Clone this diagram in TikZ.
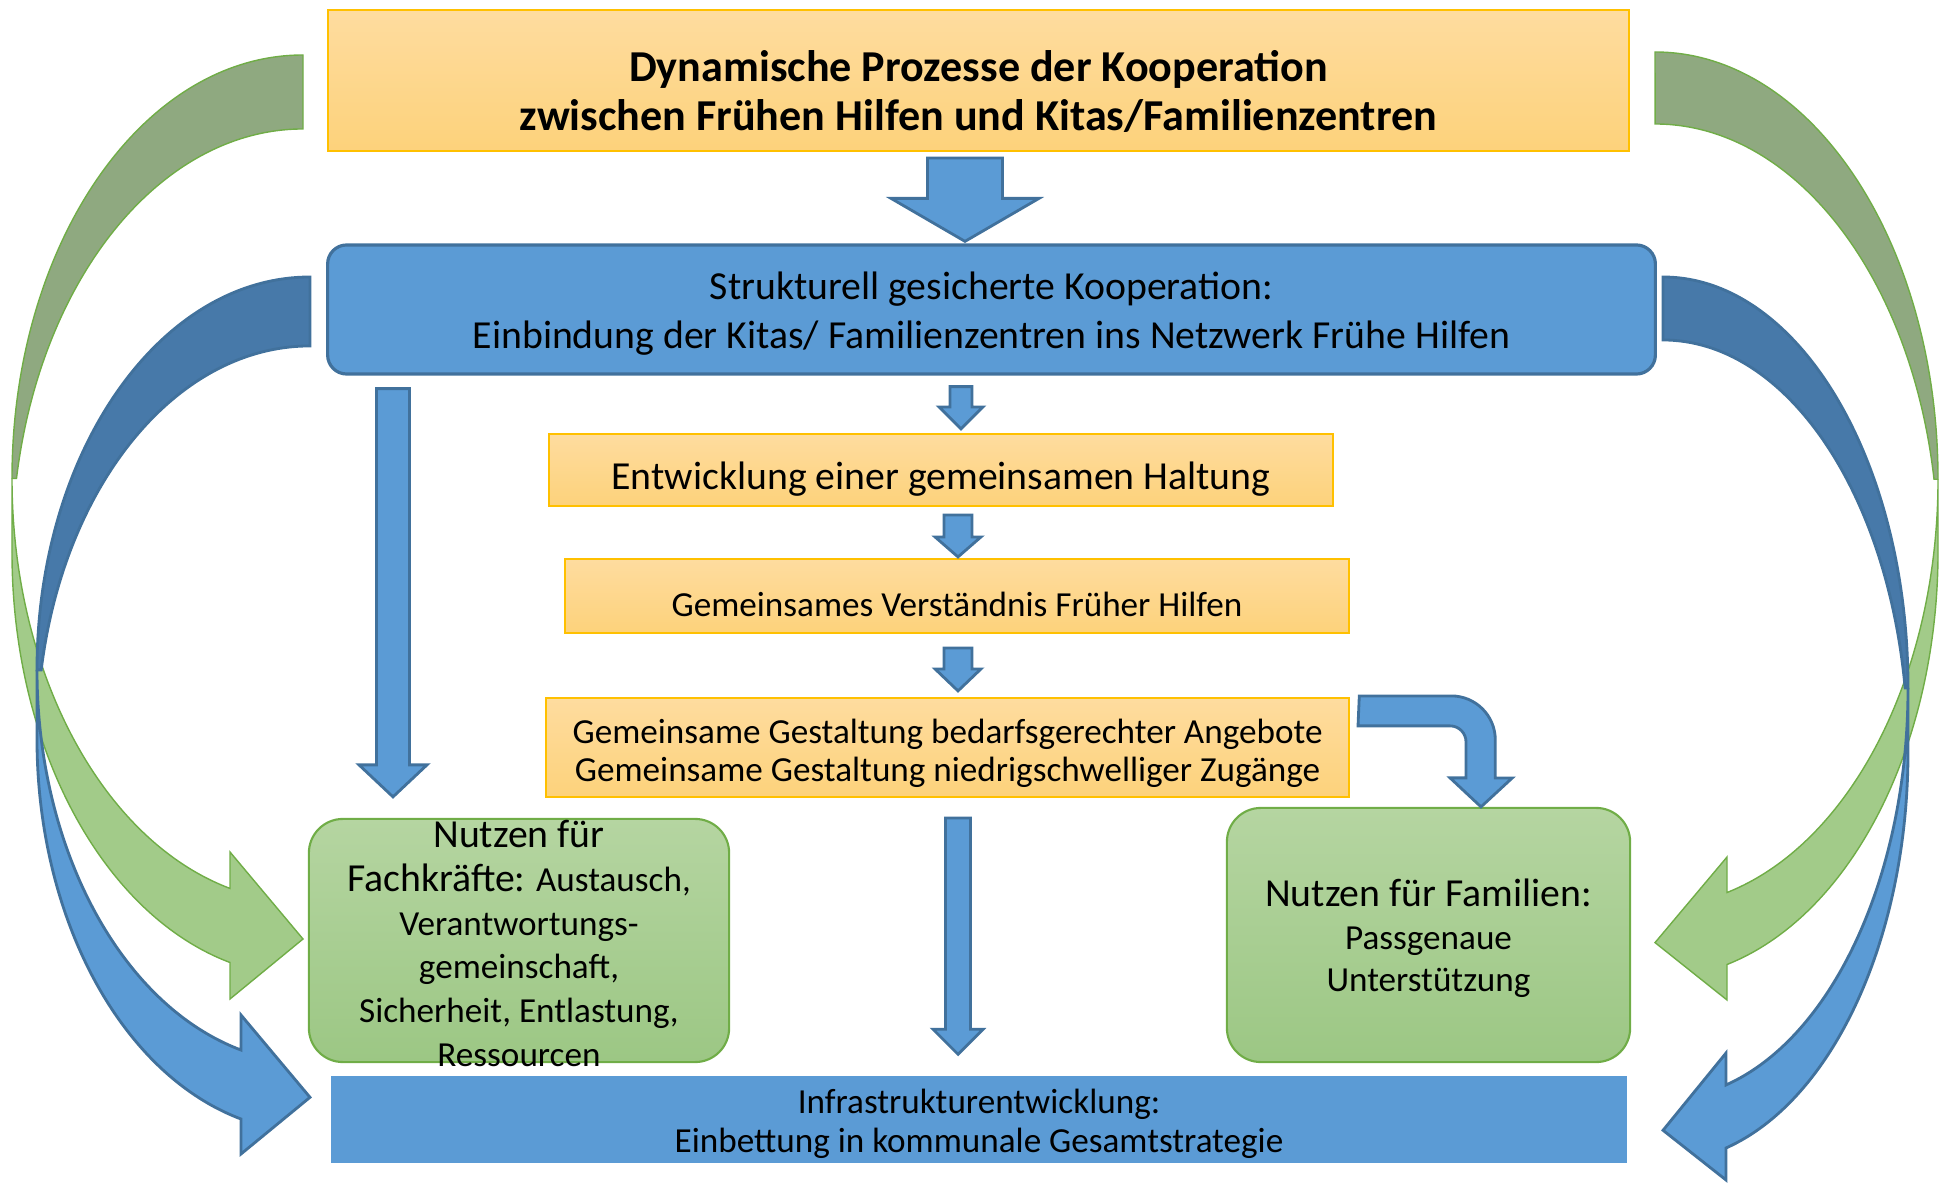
\documentclass[tikz,border=0pt]{standalone}
\usepackage{fontspec}
\setmainfont{Carlito}
\usetikzlibrary{calc}

\definecolor{orangetop}{HTML}{FEDC9F}
\definecolor{orangebot}{HTML}{FDD27B}
\definecolor{orangeline}{HTML}{FFC000}
\definecolor{bluefill}{HTML}{5B9BD5}
\definecolor{blueline}{HTML}{41719C}
\definecolor{blueback}{HTML}{4779A9}
\definecolor{greentop}{HTML}{B5D5A1}
\definecolor{greenbot}{HTML}{9CC784}
\definecolor{greenline}{HTML}{70AD47}
\definecolor{greenfront}{HTML}{A2CB89}
\definecolor{greenback}{HTML}{8FA980}

\newcommand{\titlefont}{\bfseries\fontsize{12.55}{14}\selectfont}
\newcommand{\bigfont}{\fontsize{11.3}{13.9}\selectfont}
\newcommand{\smallfont}{\fontsize{10}{10.8}\selectfont}
% lowered text block: shift, lines
\newcommand{\boxtext}[2]{\raisebox{-#1}[\height][\depth]{\begin{tabular}{@{}c@{}}#2\end{tabular}}}

\tikzset{
  orangebox/.style={draw=orangeline, line width=0.6pt, top color=orangetop, bottom color=orangebot, align=center, inner sep=0pt},
  bluebox/.style={draw=blueline, line width=0.9pt, fill=bluefill, rounded corners=0.19cm, align=center, inner sep=0pt},
  greenbox/.style={draw=greenline, line width=0.6pt, top color=greentop, bottom color=greenbot, rounded corners=0.34cm, align=center, inner sep=0pt},
  blkarrow/.style={draw=blueline, fill=bluefill, line width=0.8pt, line join=miter},
  gfront/.style={draw=greenline, fill=greenfront, line width=0.4pt},
  gback/.style={draw=greenline, fill=greenback, line width=0.4pt},
  bfront/.style={draw=blueline, fill=bluefill, line width=0.8pt},
  bback/.style={draw=blueline, fill=blueback, line width=0.8pt}
}

% start, end, half shaft, half head, head length (in 0.01cm)
\newcommand{\blkdown}[5]{%
  \draw[blkarrow] let \p1=(#1), \p2=(#2) in
    (\x1-#3*0.01cm,\y1) -- (\x1+#3*0.01cm,\y1) -- (\x1+#3*0.01cm,\y2+#5*0.01cm)
    -- (\x1+#4*0.01cm,\y2+#5*0.01cm) -- (\x2,\y2) -- (\x1-#4*0.01cm,\y2+#5*0.01cm)
    -- (\x1-#3*0.01cm,\y2+#5*0.01cm) -- cycle;}

\begin{document}
\begin{tikzpicture}[x=0.01cm, y=-0.01cm]
\useasboundingbox (0,0) rectangle (1943,1183);

\draw[gback] (303,55) arc[start angle=270, end angle=180, x radius=291, y radius=423.5]
  -- (16.5,478.5) arc[start angle=190.06, end angle=270, x radius=291, y radius=423.5] -- cycle;
\draw[gfront] (12,478.5) arc[start angle=180, end angle=104.53, x radius=291, y radius=423.5]
  -- (230,852) -- (303,939) -- (230,999) -- (230,962.5)
  arc[start angle=104.53, end angle=180, x radius=291, y radius=423.5] -- cycle;

\draw[gback] (1655,52) arc[start angle=270, end angle=360, x radius=283, y radius=427.3]
  -- (1934,479.3) arc[start angle=350.3, end angle=270, x radius=283, y radius=427.3] -- cycle;
\draw[gfront] (1938,479.3) arc[start angle=0, end angle=75.26, x radius=283, y radius=427.3]
  -- (1727,857) -- (1655,942.6) -- (1727,1000) -- (1727,964.5)
  arc[start angle=75.26, end angle=0, x radius=283, y radius=427.3] -- cycle;

\draw[bback] (310,277) arc[start angle=270, end angle=180, x radius=273, y radius=392.9]
  -- (41.2,669.9) arc[start angle=190.11, end angle=270, x radius=273, y radius=392.9] -- cycle;
\draw[bfront] (37,669.9) arc[start angle=180, end angle=104.64, x radius=273, y radius=392.9]
  -- (241,1015) -- (310,1097.3) -- (241,1154) -- (241,1119)
  arc[start angle=104.64, end angle=180, x radius=273, y radius=392.9] -- cycle;

\draw[bback] (1663,277) arc[start angle=270, end angle=360, x radius=245, y radius=410.9]
  -- (1905.1,687.9) arc[start angle=351.18, end angle=270, x radius=245, y radius=410.9] -- cycle;
\draw[bfront] (1908,687.9) arc[start angle=0, end angle=75.1, x radius=245, y radius=410.9]
  -- (1726,1053) -- (1663,1130.3) -- (1726,1180) -- (1726,1148)
  arc[start angle=75.1, end angle=0, x radius=245, y radius=410.9] -- cycle;

\node[orangebox, minimum width=13.01cm, minimum height=1.41cm, font=\titlefont] (title) at (978.5,80.5)
  {\boxtext{0.16cm}{Dynamische Prozesse der Kooperation\\zwischen Frühen Hilfen und Kitas/Familienzentren}};
\node[bluebox, minimum width=13.27cm, minimum height=1.29cm, font=\bigfont] (struct) at (991.5,309.5)
  {\boxtext{0.05cm}{Strukturell gesicherte Kooperation:\\Einbindung der Kitas/ Familienzentren ins Netzwerk Frühe Hilfen}};
\node[orangebox, minimum width=7.84cm, minimum height=0.72cm, font=\bigfont] (haltung) at (941,470)
  {\boxtext{0.095cm}{Entwicklung einer gemeinsamen Haltung}};
\node[orangebox, minimum width=7.84cm, minimum height=0.74cm, font=\smallfont] (verst) at (957,596)
  {\boxtext{0.13cm}{Gemeinsames Verständnis Früher Hilfen}};
\node[orangebox, minimum width=8.03cm, minimum height=0.99cm, font=\smallfont] (gest) at (947.5,747.5)
  {\boxtext{0.07cm}{Gemeinsame Gestaltung bedarfsgerechter Angebote\\Gemeinsame Gestaltung niedrigschwelliger Zugänge}};
\node[greenbox, minimum width=4.2cm, minimum height=2.43cm] (fach) at (519,940.5) {};
\node[align=center, inner sep=0pt, font=\fontsize{10}{12.4}\selectfont] (fachtext) at (519,943.5)
  {{\bigfont Nutzen für}\\{\bigfont Fachkräfte:} Austausch,\\Verantwortungs-\\gemeinschaft,\\Sicherheit, Entlastung,\\Ressourcen};
\node[greenbox, minimum width=4.03cm, minimum height=2.54cm, font=\fontsize{10}{12.2}\selectfont] (famil) at (1428.5,935)
  {\boxtext{0.055cm}{{\bigfont Nutzen für Familien:}\\Passgenaue\\Unterstützung}};
\node[fill=bluefill, minimum width=12.96cm, minimum height=0.87cm, align=center, inner sep=0pt,
  font=\fontsize{10}{11.1}\selectfont] (infra) at (979,1119.5)
  {\boxtext{0.055cm}{Infrastrukturentwicklung:\\Einbettung in kommunale Gesamtstrategie}};

\blkdown{$(title.south -| 965,0)+(0,6)$}{$(struct.north -| 965,0)+(0,-2)$}{37.5}{74}{43}
\blkdown{$(struct.south -| 961,0)+(0,11)$}{$(haltung.north -| 961,0)+(0,-4)$}{11}{22}{22}
\blkdown{$(haltung.south -| 958,0)+(0,8)$}{$(verst.north -| 958,0)+(0,-1)$}{14}{23}{20}
\blkdown{$(verst.south -| 958,0)+(0,14)$}{$(gest.north -| 958,0)+(0,-6)$}{14}{23}{22}
\blkdown{$(struct.south -| 393,0)+(0,13)$}{$(fach.north -| 393,0)+(0,-21)$}{16.5}{34}{32}
\blkdown{$(gest.south -| 958,0)+(0,20)$}{$(infra.north -| 958,0)+(0,-21)$}{12.5}{25}{25}

\coordinate (bendtip) at (famil.north -| 1481,0);
\draw[blkarrow] ($(gest.north east)+(9,-1)$) -- ++(92,0) arc[start angle=270, end angle=360, radius=44]
  -- ++(0,38) -- ++(17,0) -- (bendtip) -- ++(-31,-29) -- ++(16,0) -- ++(0,-36)
  arc[start angle=0, end angle=-90, radius=16] -- ++(-92,0) -- cycle;
\end{tikzpicture}
\end{document}
